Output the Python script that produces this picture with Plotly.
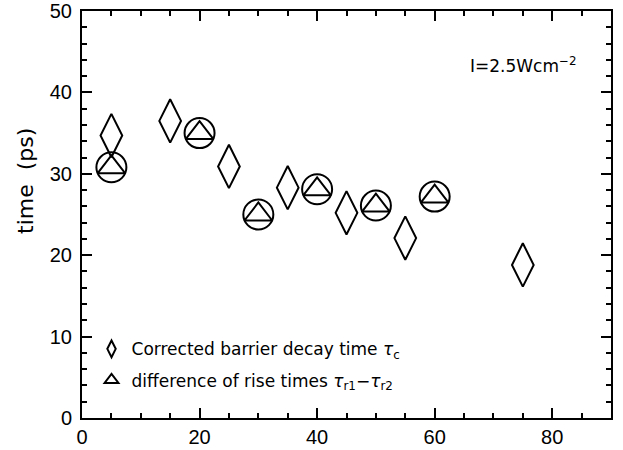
import plotly.graph_objects as go

# Data
decay_x = [5, 15, 25, 35, 45, 55, 75]
decay_y = [34.7, 36.5, 30.9, 28.3, 25.2, 22.1, 18.8]

rise_x = [5, 20, 30, 40, 50, 60]
rise_y = [30.8, 35.0, 25.0, 28.1, 26.1, 27.2]

x_ticks = [0, 20, 40, 60, 80]
y_ticks = [0, 10, 20, 30, 40, 50]

FONT = "Liberation Sans, Arial, sans-serif"
WIDE = "DejaVu Sans, Verdana, sans-serif"

fig = go.Figure()

fig.add_trace(go.Scatter(
    x=decay_x, y=decay_y, mode="markers",
    name="Corrected barrier decay time <i>τ</i><sub>c</sub>",
    marker=dict(symbol="diamond-tall-open", size=31, color="black",
                line=dict(color="black", width=2)),
    legendgroup="a",
))
fig.add_trace(go.Scatter(
    x=rise_x, y=rise_y, mode="markers",
    name="circ", showlegend=False,
    marker=dict(symbol="circle-open", size=30, color="black",
                line=dict(color="black", width=2)),
))
fig.add_trace(go.Scatter(
    x=rise_x, y=rise_y, mode="markers",
    name="difference of rise times <i>τ</i><sub>r1</sub>−<i>τ</i><sub>r2</sub>",
    marker=dict(symbol="triangle-up-open", size=24, color="black",
                line=dict(color="black", width=2)),
    legendgroup="b",
))

fig.add_annotation(
    x=0.835, y=0.868, xref="paper", yref="paper",
    xanchor="center", yanchor="middle",
    text="I=2.5Wcm<sup>−2</sup>", showarrow=False,
    font=dict(family=WIDE, size=17, color="black"),
)

fig.add_annotation(
    x=-0.108, y=0.582, xref="paper", yref="paper",
    xanchor="center", yanchor="middle",
    text="time  (ps)", showarrow=False, textangle=-90,
    font=dict(family=WIDE, size=22, color="black"),
)

axis_common = dict(
    showline=True, linecolor="black", linewidth=2, mirror="ticks",
    ticks="inside", tickcolor="black", tickwidth=2,
    showgrid=False, zeroline=False, automargin=False,
    tickfont=dict(family=FONT, size=20, color="black"),
)

fig.update_xaxes(
    range=[0, 90], tickvals=x_ticks, ticklen=10,
    minor=dict(dtick=5, tick0=0, ticks="inside", ticklen=5, tickwidth=2, tickcolor="black"),
    **axis_common,
)
fig.update_yaxes(
    range=[0, 50], tickvals=y_ticks, ticklen=10, ticklabelstandoff=4,
    minor=dict(dtick=2, tick0=0, ticks="inside", ticklen=5, tickwidth=2, tickcolor="black"),
    **axis_common,
)

fig.update_layout(
    width=623, height=450,
    margin=dict(l=82, r=12, t=11, b=32),
    paper_bgcolor="white", plot_bgcolor="white",
    font=dict(family=WIDE, color="black"),
    legend=dict(x=0.018, y=0.213, xanchor="left", yanchor="top",
                bgcolor="rgba(0,0,0,0)", itemsizing="constant",
                traceorder="grouped", tracegroupgap=6,
                font=dict(family=WIDE, size=17, color="black")),
)

fig.write_html("out.html")
